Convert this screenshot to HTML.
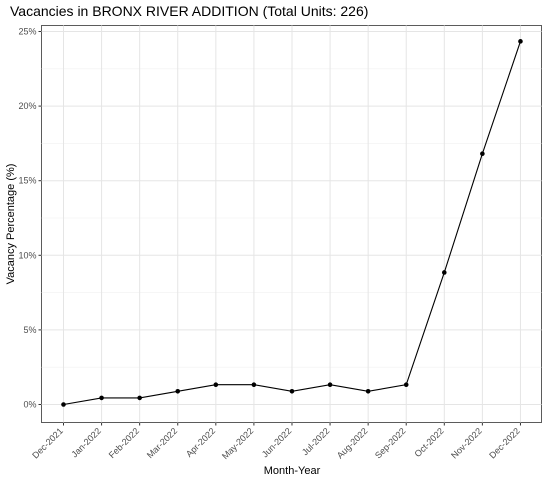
<!DOCTYPE html>
<html><head><meta charset="utf-8"><style>
body{margin:0;background:#fff;font-family:"Liberation Sans",sans-serif;}
</style></head><body>
<svg id="chart" width="550" height="480" xmlns="http://www.w3.org/2000/svg">
<text x="10" y="16" font-size="14" fill="#000">Vacancies in BRONX RIVER ADDITION (Total Units: 226)</text>
<rect x="41.5" y="25.5" width="500" height="397" fill="#fff" stroke="#333" stroke-width="0.8"/>
<g id="grid"></g><g id="axes"></g><g id="series"></g>
<text x="292" y="474" font-size="11" text-anchor="middle">Month-Year</text>
<text transform="translate(14,224) rotate(-90)" font-size="11" text-anchor="middle">Vacancy Percentage (%)</text>
</svg>
<script>
const categories=["Dec-2021","Jan-2022","Feb-2022","Mar-2022","Apr-2022","May-2022","Jun-2022","Jul-2022","Aug-2022","Sep-2022","Oct-2022","Nov-2022","Dec-2022"];
const vacancyPct=[0,0.442,0.442,0.885,1.327,1.327,0.885,1.327,0.885,1.327,8.85,16.81,24.34];
const yTicks=[0,5,10,15,20,25];
const yTickLabels=["0%","5%","10%","15%","20%","25%"];
const NS="http://www.w3.org/2000/svg";
const L=41.5,R=541.5,T=25.5,B=422.5;
const x=i=>63.5+i*38.08;
const y=v=>404.5-v*14.92;
function mk(tag,attrs,parent){const e=document.createElementNS(NS,tag);for(const k in attrs)e.setAttribute(k,attrs[k]);document.getElementById(parent).appendChild(e);return e;}
for(let i=0;i<yTicks.length-1;i++){const v=(yTicks[i]+yTicks[i+1])/2;
const g=mk("line",{x1:L,x2:R,y1:y(v),y2:y(v),stroke:"#f0f0f0","stroke-width":0.6},"grid");

}
yTicks.forEach((v,i)=>{
const g=mk("line",{x1:L,x2:R,y1:y(v),y2:y(v),stroke:"#e5e5e5","stroke-width":1},"grid");


const t=mk("line",{x1:L-3,x2:L,y1:y(v),y2:y(v),stroke:"#333"},"axes");


const tx=mk("text",{x:L-5,y:y(v)+3,"font-size":9,fill:"#4d4d4d","text-anchor":"end"},"axes");
tx.textContent=yTickLabels[i];


});
categories.forEach((c,i)=>{
const g=mk("line",{x1:x(i),x2:x(i),y1:T,y2:B,stroke:"#e5e5e5","stroke-width":1},"grid");


const t=mk("line",{x1:x(i),x2:x(i),y1:B,y2:B+3,stroke:"#333"},"axes");


const tx=mk("text",{transform:`translate(${x(i)},${B+9}) rotate(-45)`,"font-size":9,fill:"#4d4d4d","text-anchor":"end"},"axes");
tx.textContent=c;


});
const line=mk("polyline",{points:vacancyPct.map((v,i)=>x(i)+","+y(v)).join(" "),fill:"none",stroke:"#000","stroke-width":1.1},"series");


vacancyPct.forEach((v,i)=>{
const p=mk("circle",{cx:x(i),cy:y(v),r:2.3,fill:"#000"},"series");


});
</script>
</body></html>
